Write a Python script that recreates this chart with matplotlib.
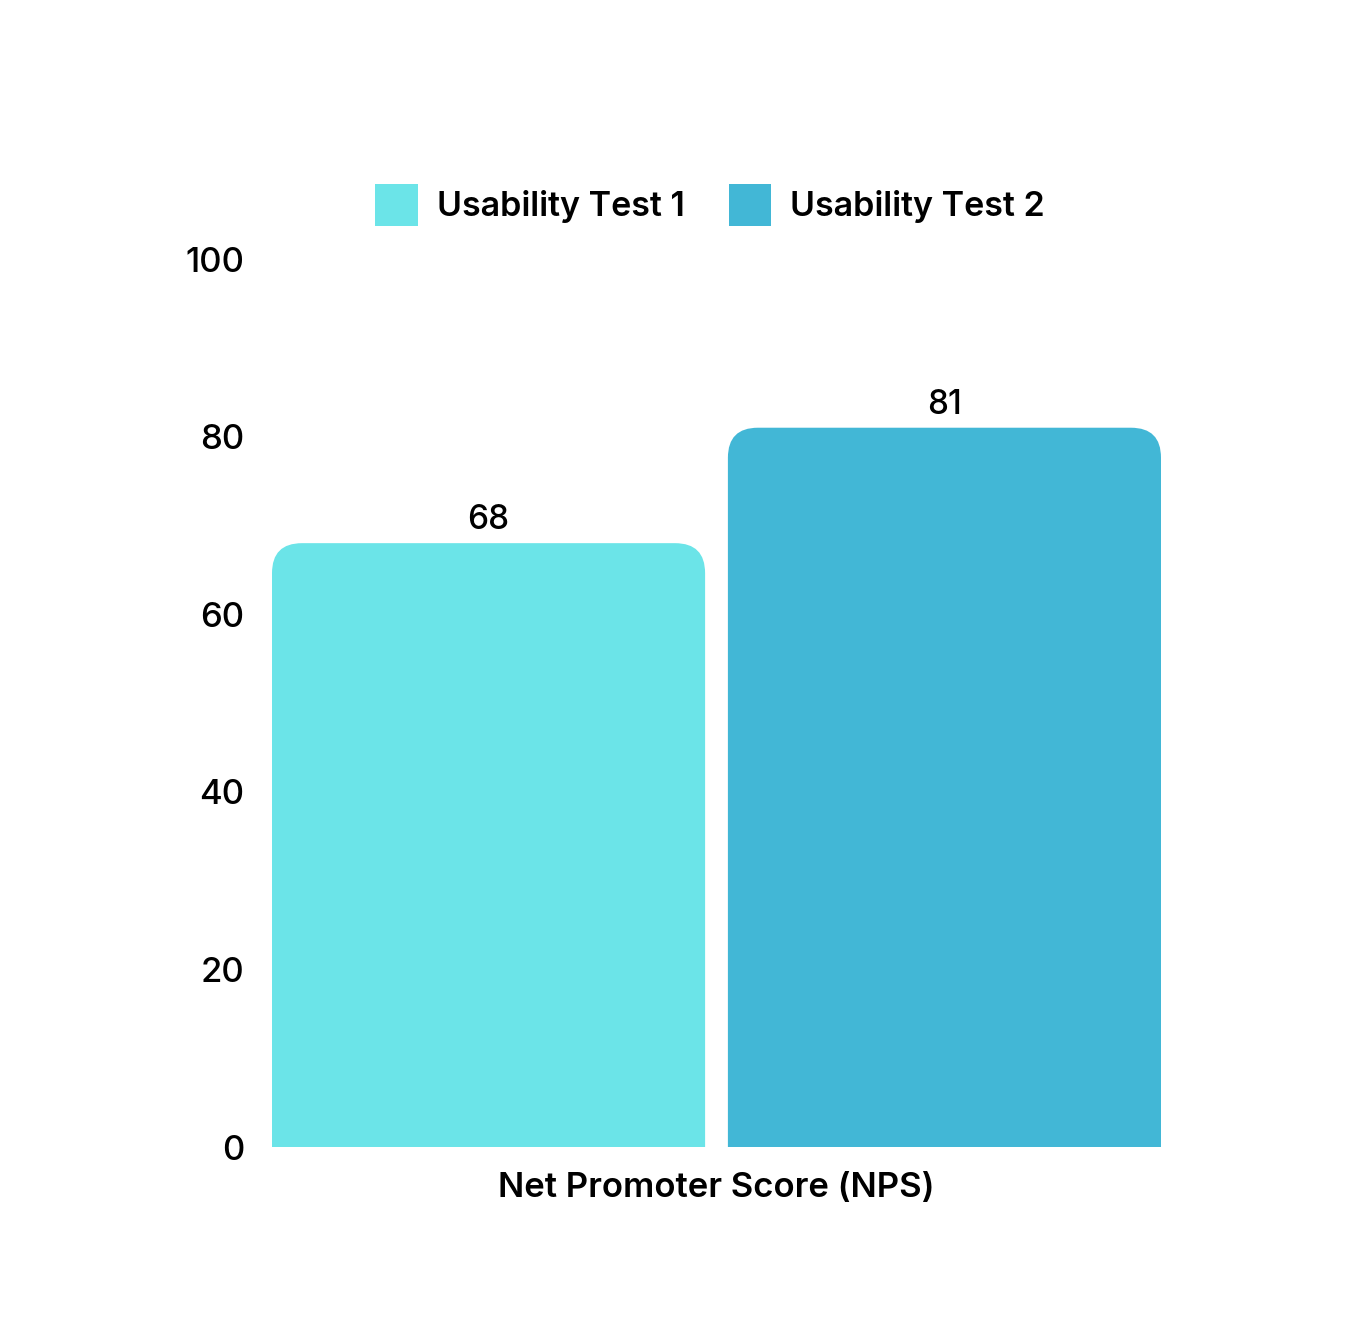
import matplotlib
matplotlib.use("Agg")
import matplotlib.pyplot as plt
from matplotlib.patches import Patch, PathPatch
from matplotlib.path import Path

# data
categories = ["Net Promoter Score (NPS)"]
series_names = ["Usability Test 1", "Usability Test 2"]
series_values = [68, 81]
series_colors = ["#6BE4E8", "#42B7D6"]
y_ticks = [0, 20, 40, 60, 80, 100]

plt.rcParams['font.family'] = ['Inter', 'DejaVu Sans']

fig = plt.figure(figsize=(13.67, 13.26), dpi=100)
ax = fig.add_axes([272 / 1367, 1 - 1147 / 1326, (1161 - 272) / 1367, (1147 - 259) / 1326])

width = 0.95
positions = [0, 1]
bars = ax.bar(positions, series_values, width=width, color=series_colors)
ax.set_xlim(-width / 2, 1 + width / 2)
ax.set_ylim(0, 100)


def rounded_top(rect, radius_px=30):
    # swap a plain bar for one with rounded top corners
    x0, y0 = rect.get_x(), rect.get_y()
    w, h = rect.get_width(), rect.get_height()
    p0 = ax.transData.transform((0, 0))
    p1 = ax.transData.transform((1, 1))
    rx = radius_px / (p1[0] - p0[0])
    ry = radius_px / (p1[1] - p0[1])
    x1, y1 = x0 + w, y0 + h
    verts = [
        (x0, y0), (x0, y1 - ry),
        (x0, y1), (x0 + rx, y1),
        (x1 - rx, y1),
        (x1, y1), (x1, y1 - ry),
        (x1, y0), (x0, y0),
    ]
    codes = [
        Path.MOVETO, Path.LINETO,
        Path.CURVE3, Path.CURVE3,
        Path.LINETO,
        Path.CURVE3, Path.CURVE3,
        Path.LINETO, Path.CLOSEPOLY,
    ]
    patch = PathPatch(Path(verts, codes), facecolor=rect.get_facecolor(), edgecolor='none')
    rect.set_visible(False)
    ax.add_patch(patch)


for rect, val in zip(bars, series_values):
    rounded_top(rect)
    ax.annotate(str(val), (rect.get_x() + rect.get_width() / 2, val),
                xytext=(0, 5), textcoords='offset points',
                ha='center', va='bottom', fontsize=24, fontweight='medium', color='black')

ax.set_yticks(y_ticks)
ax.set_yticklabels([str(t) for t in y_ticks], fontsize=25, fontweight='medium')
ax.tick_params(axis='y', length=0, pad=20)
ax.set_xticks([])
ax.set_xlabel(categories[0], fontsize=25, fontweight='semibold', labelpad=18)
for s in ax.spines.values():
    s.set_visible(False)

handles = [Patch(facecolor=c, edgecolor='none') for c in series_colors]
fig.legend(handles, series_names, loc='center', bbox_to_anchor=(710 / 1367, 1 - 205 / 1326),
           ncol=2, frameon=False, prop={'size': 24.5, 'weight': 'semibold'},
           handlelength=1.25, handleheight=1.5, handletextpad=0.55, columnspacing=1.3)

fig.savefig("out.png", dpi=100, facecolor='white')
